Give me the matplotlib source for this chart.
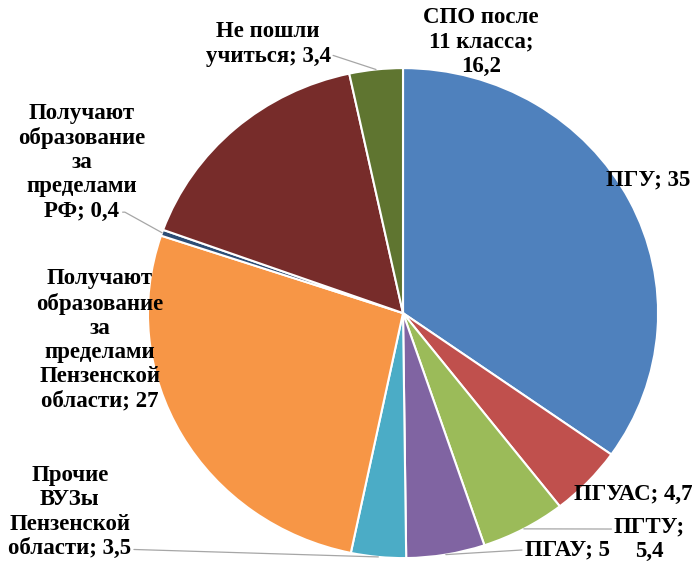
import numpy as np
import matplotlib.pyplot as plt

# ---DATA
names = ['ПГУ', 'ПГУАС', 'ПГТУ', 'ПГАУ', 'Прочие\nВУЗы\nПензенской\nобласти',
         'Получают\nобразование\nза\nпределами\nПензенской\nобласти',
         'Получают\nобразование\nза\nпределами\nРФ',
         'СПО после\n11 класса',
         'Не пошли\nучиться']
values = [35, 4.7, 5.4, 5, 3.5, 27, 0.4, 16.2, 3.4]
value_text = ['35', '4,7', '5,4', '5', '3,5', '27', '0,4', '16,2', '3,4']
colors = ['#4F81BD', '#C0504D', '#9BBB59', '#8064A2', '#4BACC6',
          '#F79646', '#2C4D75', '#772C2A', '#5F7530']

# label text (how Excel wrapped them)
labels = ['ПГУ; 35', 'ПГУАС; 4,7', 'ПГТУ;\n5,4', 'ПГАУ; 5',
          'Прочие\nВУЗы\nПензенской\nобласти; 3,5',
          'Получают\nобразование\nза\nпределами\nПензенской\nобласти; 27',
          'Получают\nобразование\nза\nпределами\nРФ; 0,4',
          'СПО после\n11 класса;\n16,2',
          'Не пошли\nучиться; 3,4']

# label placement (data units, pie radius = 1) and leader-line flags
label_xy = [(0.961, 0.543), (0.902, -0.739), (0.965, -0.922), (0.643, -0.967),
            (-1.306, -0.812), (-1.188, -0.110), (-1.259, 0.616),
            (0.306, 1.106), (-0.529, 1.098)]
leader = [False, False, True, True, True, False, True, False, True]
leader_rel = [None, None, (-0.03, 0.72), (-0.03, 0.5), (1.02, 0.1),
              None, (0.82, 0.08), None, (1.02, 0.25)]
leader_conn = [None, None, 'arc3', 'arc3', 'arc3', None,
               'angle,angleA=0,angleB=151,rad=0', None, 'arc3']

# ---PLOT
fig = plt.figure(figsize=(6.92, 5.62), dpi=100)
ax = fig.add_axes([0, 0, 1, 1])

wedges, _ = ax.pie(values, colors=colors, startangle=90, counterclock=False,
                   radius=1, wedgeprops=dict(edgecolor='white', linewidth=1.5))

ax.set_aspect('auto')
ax.set_xlim(-1.580, 1.133)
ax.set_ylim(-1.016, 1.278)
ax.axis('off')

font = dict(family='Liberation Serif', weight='bold', size=16.5, color='black')

for i, w in enumerate(wedges):
    ang = np.deg2rad((w.theta1 + w.theta2) / 2)
    tip = (np.cos(ang), np.sin(ang))
    if leader[i]:
        ax.annotate(labels[i], xy=tip, xytext=label_xy[i],
                    ha='center', va='center', multialignment='center',
                    linespacing=1.2, **font,
                    arrowprops=dict(arrowstyle='-', color='#A6A6A6', lw=0.9,
                                    relpos=leader_rel[i], patchA=None,
                                    shrinkA=0, shrinkB=0,
                                    connectionstyle=leader_conn[i]))
    else:
        ax.text(label_xy[i][0], label_xy[i][1], labels[i],
                ha='center', va='center', multialignment='center',
                linespacing=1.2, **font)

fig.savefig('out.png', dpi=100)
